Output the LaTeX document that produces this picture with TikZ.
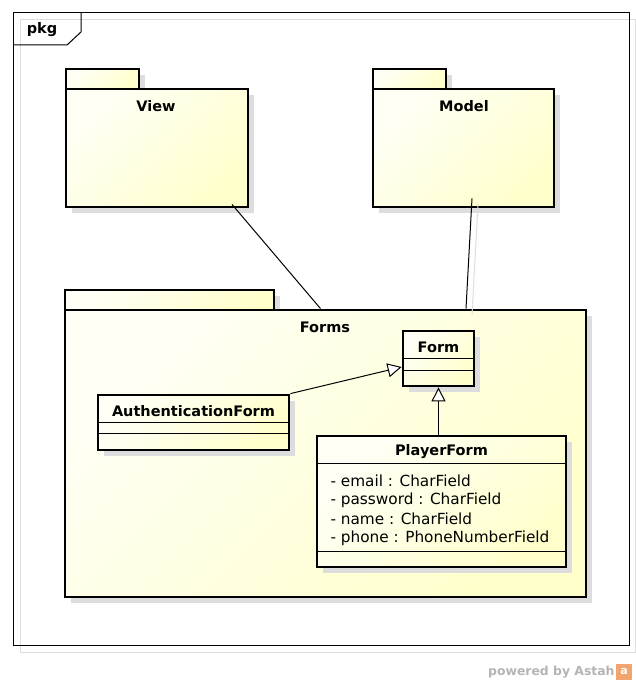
\documentclass[tikz,border=0pt]{standalone}
\usepackage{fontspec}
\setmainfont{DejaVu Sans}
\usetikzlibrary{arrows.meta,shadows}
\definecolor{pkglight}{HTML}{FFFFF6}
\definecolor{pkgyellow}{HTML}{FFFFCC}
\definecolor{shadowgrey}{HTML}{DDDDDD}
\definecolor{astahgrey}{HTML}{B4B4B4}
\definecolor{astahorange}{HTML}{F2A46E}

\begin{document}
\begin{tikzpicture}
[x=1pt, y=-1pt, font=\fontsize{14.5}{17}\selectfont, line width=1pt,
pkgshade/.style={top color=pkglight, bottom color=pkgyellow, shading angle=45},
umlshadow/.style={drop shadow={shadow xshift=6pt, shadow yshift=-6pt, fill=shadowgrey, opacity=1}},
pkgtab/.style={rectangle, draw, line width=2.8pt, inner sep=0pt, minimum height=20pt, pkgshade, umlshadow},
pkgbody/.style={rectangle, draw, line width=2.8pt, inner sep=0pt, pkgshade, umlshadow},
classbox/.style={rectangle, draw, line width=2.8pt, inner sep=0pt, pkgshade, umlshadow},
title/.style={font=\bfseries\fontsize{14.5}{17}\selectfont, inner sep=0pt},
attr/.style={anchor=west, inner sep=0pt, font=\fontsize{15.3}{18}\selectfont},
gen/.style={-{Triangle[length=14pt, width=14pt, fill=white]}}
]
\useasboundingbox (0,0) rectangle (636,685);

% frame
\draw[shadowgrey] (20,20) rectangle (635.5,652);
\draw (13,13) rectangle (629,645);
\draw (13,45) -- (67,45) -- (81,32) -- (81,13);
\node[title] (pkgname) at (42,30) {pkg};

% packages
\node[pkgtab, minimum width=73pt] (viewtab) at (102.5,79) {};
\node[pkgbody, minimum width=182pt, minimum height=118pt] (view) at (157,148) {};
\node[title] (viewname) at (156,106) {View};

\node[pkgtab, minimum width=73pt] (modeltab) at (409.5,79) {};
\node[pkgbody, minimum width=181pt, minimum height=118pt] (model) at (463.5,148) {};
\node[title] (modelname) at (464,106) {Model};

\node[pkgtab, minimum width=209pt] (formstab) at (169.5,300) {};
\node[pkgbody, minimum width=521pt, minimum height=287pt] (forms) at (325.5,453.5) {};
\node[title] (formsname) at (325,327) {Forms};

% classes
\node[classbox, minimum width=71pt, minimum height=55pt] (form) at (438.5,358.5) {};
\node[title] (formname) at (438.5,347) {Form};
\draw ([yshift=-29pt]form.north west) -- ([yshift=-29pt]form.north east);
\draw ([yshift=-41pt]form.north west) -- ([yshift=-41pt]form.north east);

\node[classbox, minimum width=191pt, minimum height=55pt] (auth) at (193.5,422.5) {};
\node[title] (authname) at (193.5,411) {AuthenticationForm};
\draw ([yshift=-29pt]auth.north west) -- ([yshift=-29pt]auth.north east);
\draw ([yshift=-40pt]auth.north west) -- ([yshift=-40pt]auth.north east);

\node[classbox, minimum width=249pt, minimum height=131pt] (player) at (441.5,501.5) {};
\node[title] (playername) at (441.5,452) {PlayerForm};
\draw ([yshift=-29pt]player.north west) -- ([yshift=-29pt]player.north east);
\node[attr] (attr1) at (330,481) {- email : CharField};
\node[attr] (attr2) at (330,500) {- password : CharField};
\node[attr] (attr3) at (330,519) {- name : CharField};
\node[attr] (attr4) at (330,538) {- phone : PhoneNumberField};
\draw ([yshift=-117pt]player.north west) -- ([yshift=-117pt]player.north east);

% dependencies
\draw ([xshift=75pt, yshift=4pt]view.south) -- ([xshift=-5pt]forms.north);
\draw[shadowgrey] ([xshift=14.5pt, yshift=4pt]model.south) -- ([xshift=146.5pt, yshift=-6pt]forms.north);
\draw ([xshift=8.5pt, yshift=10pt]model.south) -- ([xshift=140.5pt]forms.north);

% generalizations
\draw[gen] (auth.north east) -- ([yshift=-8.5pt]form.west);
\draw[gen] (player.north -| form.south) -- (form.south);

% footer
\node[anchor=east, text=astahgrey, font=\bfseries\fontsize{12.4}{15}\selectfont, inner sep=0pt] (powered) at (615,672) {powered by Astah};
\node[fill=astahorange, minimum size=16pt, inner sep=0pt, text=white, font=\bfseries\fontsize{11}{12}\selectfont] (astahlogo) at (624,671.5) {a};
\end{tikzpicture}
\end{document}
